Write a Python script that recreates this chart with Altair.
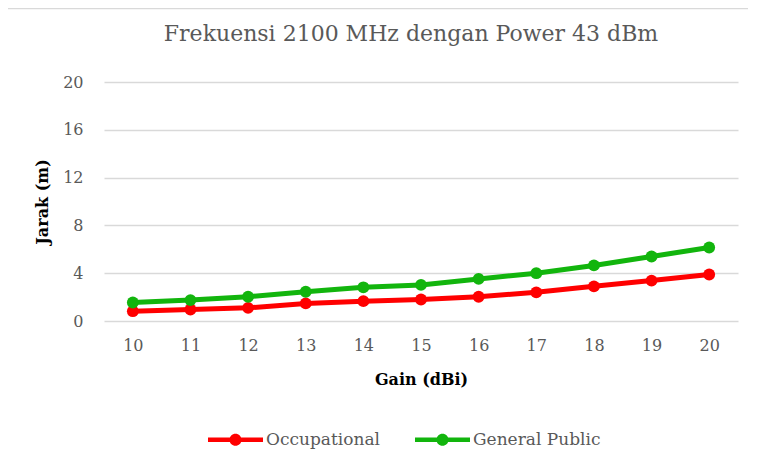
import altair as alt
import pandas as pd

gain = [10, 11, 12, 13, 14, 15, 16, 17, 18, 19, 20]
occupational = [0.82, 0.96, 1.10, 1.47, 1.66, 1.80, 2.03, 2.40, 2.90, 3.38, 3.89]
general_public = [1.55, 1.75, 2.03, 2.45, 2.82, 3.02, 3.52, 4.00, 4.65, 5.40, 6.15]
series_names = ["Occupational", "General Public"]
series_colors = ["#FF0000", "#12B50D"]
y_ticks = [0, 4, 8, 12, 16, 20]

rows = []
for name, vals in zip(series_names, [occupational, general_public]):
    for g, v in zip(gain, vals):
        rows.append({"Gain": g, "Jarak": v, "Series": name})
df = pd.DataFrame(rows)

FONT = "DejaVu Serif"
GRAY = "#595959"
GRID = "#D9D9D9"

# custom legend symbol: horizontal line with a dot in the middle (unit coords)
legend_symbol = (
    "M-1,-0.08L1,-0.08L1,0.08L-1,0.08Z"
    "M-0.22,0A0.22,0.22,0,1,1,0.22,0A0.22,0.22,0,1,1,-0.22,0Z"
)

legend = alt.Legend(
    title=None, orient="none", direction="horizontal",
    legendX=104, legendY=330,
    symbolType=legend_symbol, symbolSize=3025, symbolStrokeWidth=0,
    symbolOpacity=1,
    labelFont=FONT, labelFontSize=17, labelColor=GRAY,
    labelOffset=3, columnPadding=35,
)
color = alt.Color(
    "Series:N",
    scale=alt.Scale(domain=series_names, range=series_colors),
    legend=legend,
)

x = alt.X(
    "Gain:O",
    title="Gain (dBi)",
    axis=alt.Axis(labelAngle=0, grid=False, domain=False, ticks=False, tickSize=0,
                  labelPadding=16, titlePadding=18),
)
y = alt.Y(
    "Jarak:Q",
    title="Jarak (m)",
    scale=alt.Scale(domain=[0, 20]),
    axis=alt.Axis(values=y_ticks, grid=True, domain=False, ticks=False, tickSize=0,
                  labelPadding=21, titlePadding=12),
)

border = alt.Chart(pd.DataFrame({"a": [0]})).mark_rect(
    fill="transparent", stroke=GRID, strokeWidth=1.5
).encode(
    x=alt.value(-97.5), x2=alt.value(800), y=alt.value(-73.5), y2=alt.value(600)
)

base = alt.Chart(df)
lines = base.mark_line(strokeWidth=5).encode(
    x=x, y=y, color=color, detail="Series:N",
)
points = base.mark_point(filled=True, size=140, opacity=1).encode(
    x=x, y=y, color=color,
)

chart = alt.layer(border, lines, points).properties(
    width=634,
    height=239,
    autosize=alt.AutoSizeParams(type="none"),
    padding={"left": 96, "top": 74, "right": 10, "bottom": 128},
    title=alt.Title(
        "Frekuensi 2100 MHz dengan Power 43 dBm",
        font=FONT, fontSize=22, fontWeight="normal", color=GRAY,
        anchor="middle", offset=-38, dx=-10,
    ),
    background="white",
).configure(font=FONT).configure_view(stroke=None).configure_axis(
    labelFont=FONT, labelFontSize=16, labelColor=GRAY,
    titleFont=FONT, titleFontSize=16, titleFontWeight="bold", titleColor="#000000",
    gridColor=GRID, gridWidth=1.5,
).configure_legend(
    labelFont=FONT, labelFontSize=17, labelColor=GRAY,
)

chart.save("out.html", embed_options={"renderer": "svg", "actions": False})
